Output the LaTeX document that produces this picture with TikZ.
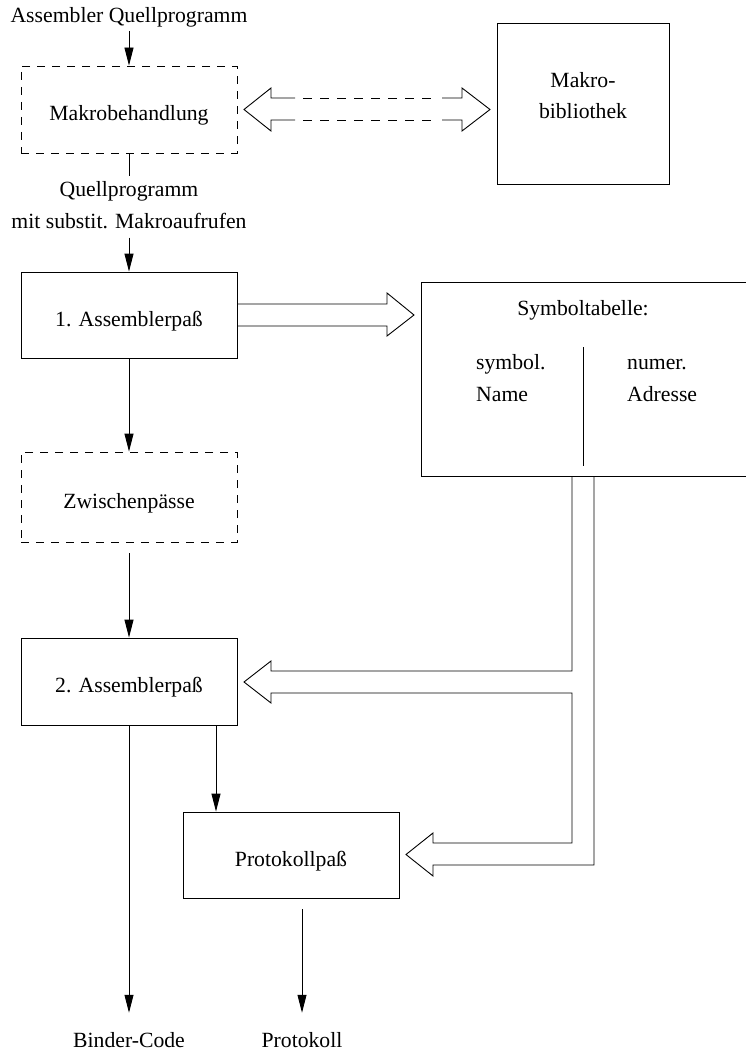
\documentclass[tikz,border=0pt]{standalone}
\usepackage{fontspec}
\setmainfont{Liberation Serif}
\usetikzlibrary{arrows.meta,calc}
\begin{document}
\begin{tikzpicture}[x=1pt,y=-1pt,
  every node/.style={font=\fontsize{21.7}{31}\selectfont, inner sep=0pt},
  line/.style={line width=0.9pt},
  box/.style={draw, line width=0.9pt, text height=22pt, text depth=0pt},
  dbox/.style={box, dash pattern=on 8pt off 7pt},
  arr/.style={line width=0.9pt, -{Triangle[length=18pt,width=9pt]}},
  hollow/.style={line width=0.9pt, line join=miter},
  shaft/.style={line width=0.9pt, dash pattern=on 9pt off 8pt},
]
\useasboundingbox (0,0) rectangle (746,1054);

% processing stages
\node[dbox, minimum width=216pt, minimum height=87pt] (makro) at (129,109.5) {Makrobehandlung};
\node[box, minimum width=216pt, minimum height=86pt] (pass1) at (129,315) {1. Assemblerpaß};
\node[dbox, minimum width=216pt, minimum height=90pt] (zw) at (129,497) {Zwischenpässe};
\node[box, minimum width=216pt, minimum height=87pt] (pass2) at (129,681.5) {2. Assemblerpaß};
\node[box, minimum width=216pt, minimum height=86pt] (prot) at (291,855) {Protokollpaß};

% macro library
\node[box, minimum width=172pt, minimum height=161pt] (bib) at (583,103.5) {};
\node[anchor=base] (bib1) at (583,88) {Makro-};
\node[anchor=base] (bib2) at (583,119) {bibliothek};

% symbol table
\node[box, minimum width=339pt, minimum height=194pt] (symtab) at (590.5,379) {};
\node[anchor=base] (symtitle) at (583,315) {Symboltabelle:};
\node[anchor=base west] (symname1) at (476,369) {symbol.};
\node[anchor=base west] (symname2) at (476,401) {Name};
\node[anchor=base west] (symaddr1) at (627,369) {numer.};
\node[anchor=base west] (symaddr2) at (627,401) {Adresse};
\coordinate (divtop) at (583,347);
\coordinate (divbot) at (583,466);
\draw[line] (divtop) -- (divbot);

% free texts
\node[anchor=base] (src) at (129,23) {Assembler Quellprogramm};
\node[anchor=base] (quell1) at (129,196) {Quellprogramm};
\node[anchor=base] (quell2) at (129,228) {mit substit. Makroaufrufen};
\node[anchor=base] (binder) at (129,1047) {Binder-Code};
\node[anchor=base] (protokoll) at (302,1047) {Protokoll};

% control flow
\draw[arr, shorten <=3pt] (src) -- (makro);
\draw[line, shorten >=5pt] (makro) -- (quell1);
\draw[arr, shorten <=9pt] (quell2) -- (pass1);
\draw[arr] (pass1) -- (zw);
\draw[arr, shorten <=11pt] (zw) -- (pass2);
\draw[arr, shorten >=19pt] (pass2) -- (binder);
\draw[arr] ([xshift=87pt]pass2.south) -- ([xshift=87pt]pass2.south |- prot.north);
\draw[arr, shorten <=11pt, shorten >=19pt] ([xshift=11pt]prot.south) -- (protokoll.north);

% hollow double arrow between macro handling and library
\draw[hollow] (295,98) -- (271,98) -- (271,88) -- (244,109.5) -- (271,131) -- (271,120) -- (295,120);
\draw[hollow] (442,98) -- (462,98) -- (462,88) -- (490,109.5) -- (462,131) -- (462,120) -- (442,120);
\draw[shaft] (303,98) -- (436,98);
\draw[shaft] (303,120) -- (436,120);

% hollow arrow from pass 1 into the symbol table
\draw[hollow] (238,304) -- (387,304) -- (387,293) -- (414,315) -- (387,336) -- (387,326) -- (238,326);

% hollow arrow from the symbol table to pass 2 and the listing pass
\draw[hollow] (572,476) -- (572,671) -- (271,671) -- (271,661) -- (244,682) -- (271,703)
  -- (271,693) -- (572,693) -- (572,843) -- (433,843) -- (433,833) -- (406,854.5)
  -- (433,876) -- (433,865) -- (594,865) -- (594,476);
\end{tikzpicture}
\end{document}
